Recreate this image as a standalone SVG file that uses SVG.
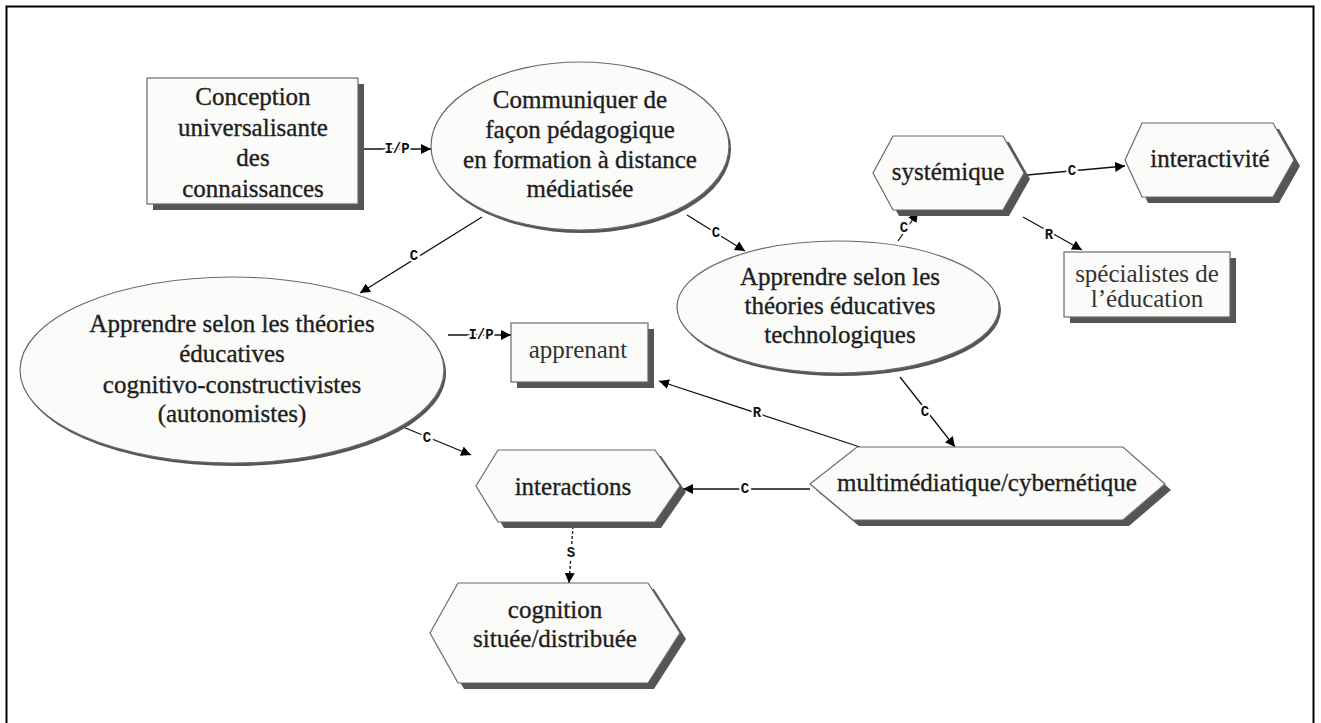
<svg xmlns="http://www.w3.org/2000/svg" width="1321" height="723" viewBox="0 0 1321 723">
<defs>
<style>
.shape{fill:#fbfbf9;stroke:#6a6a6a;stroke-width:1.2}
.shadow{fill:#555}
.t{font-family:'Liberation Serif','DejaVu Serif',serif;font-size:25px;fill:#1e1e1e;text-anchor:middle;stroke:#1e1e1e;stroke-width:0.35}
.tl{font-family:'Liberation Serif','DejaVu Serif',serif;font-size:25px;fill:#333;text-anchor:middle}
.lnk{stroke:#111;stroke-width:1.3;fill:none;marker-end:url(#arr)}
.lbl{font-family:'Liberation Mono','DejaVu Sans Mono',monospace;font-size:14px;font-weight:bold;fill:#111;text-anchor:middle;dominant-baseline:central;stroke:#fff;stroke-width:4;paint-order:stroke}
</style>
<marker id="arr" markerUnits="userSpaceOnUse" markerWidth="11" markerHeight="10" refX="10" refY="5" orient="auto">
<path d="M0,0 L10,5 L0,10 z" fill="#000"/>
</marker>
</defs>
<rect x="0" y="0" width="1321" height="723" fill="#fff"/>
<rect x="6.5" y="6.5" width="1307" height="740" fill="none" stroke="#000" stroke-width="2"/>

<g id="connectors">
<line class="lnk" x1="364" y1="149" x2="431" y2="149"/>
<text class="lbl" x="397" y="149">I/P</text>
<line class="lnk" x1="482" y1="217" x2="360" y2="293"/>
<text class="lbl" x="414" y="256">C</text>
<line class="lnk" x1="687" y1="215" x2="745" y2="251"/>
<text class="lbl" x="716" y="233">C</text>
<line class="lnk" x1="898" y1="241" x2="918" y2="212"/>
<text class="lbl" x="904" y="228">C</text>
<line class="lnk" x1="1027" y1="175" x2="1125" y2="166"/>
<text class="lbl" x="1072" y="171">C</text>
<line class="lnk" x1="1023" y1="217" x2="1082" y2="250"/>
<text class="lbl" x="1049" y="235">R</text>
<line class="lnk" x1="448" y1="335" x2="511" y2="335"/>
<text class="lbl" x="481" y="335">I/P</text>
<line class="lnk" x1="403" y1="427" x2="471" y2="455"/>
<text class="lbl" x="427" y="438">C</text>
<line class="lnk" x1="860" y1="447" x2="659" y2="381"/>
<text class="lbl" x="757" y="413">R</text>
<line class="lnk" x1="900" y1="377" x2="955" y2="447"/>
<text class="lbl" x="925" y="412">C</text>
<line class="lnk" x1="810" y1="489" x2="683" y2="489"/>
<text class="lbl" x="745" y="489">C</text>
<line class="lnk" x1="573" y1="526" x2="569" y2="583" stroke-dasharray="3 2"/>
<text class="lbl" x="571" y="553">S</text>
</g>

<g id="n-conception">
<rect class="shadow" x="153" y="84" width="211" height="126"/>
<rect class="shape" x="147" y="78" width="211" height="126"/>
<text class="t" x="253" y="105">Conception</text>
<text class="t" x="253" y="136">universalisante</text>
<text class="t" x="253" y="166">des</text>
<text class="t" x="253" y="197">connaissances</text>
</g>

<g id="n-communiquer">
<ellipse class="shadow" cx="582" cy="149" rx="149" ry="84"/>
<ellipse class="shape" cx="580" cy="146" rx="149" ry="84"/>
<text class="t" x="580" y="108">Communiquer de</text>
<text class="t" x="580" y="138">façon pédagogique</text>
<text class="t" x="580" y="168">en formation à distance</text>
<text class="t" x="580" y="197">médiatisée</text>
</g>

<g id="n-cognitivo">
<ellipse class="shadow" cx="234" cy="373" rx="212" ry="93"/>
<ellipse class="shape" cx="232" cy="370" rx="212" ry="93"/>
<text class="t" x="232" y="332">Apprendre selon les théories</text>
<text class="t" x="232" y="362">éducatives</text>
<text class="t" x="232" y="393">cognitivo-constructivistes</text>
<text class="t" x="232" y="422">(autonomistes)</text>
</g>

<g id="n-technologiques">
<ellipse class="shadow" cx="840" cy="310" rx="161" ry="66"/>
<ellipse class="shape" cx="838" cy="307" rx="161" ry="66"/>
<text class="t" x="840" y="285">Apprendre selon les</text>
<text class="t" x="840" y="314">théories éducatives</text>
<text class="t" x="840" y="343">technologiques</text>
</g>

<g id="n-apprenant">
<rect class="shadow" x="517" y="329" width="137" height="59"/>
<rect class="shape" x="511" y="323" width="137" height="59"/>
<text class="tl" x="578" y="358">apprenant</text>
</g>

<g id="n-specialistes">
<rect class="shadow" x="1070" y="258" width="166" height="65"/>
<rect class="shape" x="1064" y="252" width="166" height="65"/>
<text class="tl" x="1147" y="282">spécialistes de</text>
<text class="tl" x="1147" y="307">l’éducation</text>
</g>

<g id="n-systemique">
<polygon class="shadow" points="879,179 899,142 1009,142 1030,179 1009,216 899,216"/>
<polygon class="shape" points="873,173 893,136 1003,136 1024,173 1003,210 893,210"/>
<text class="t" x="948" y="180">systémique</text>
</g>

<g id="n-interactivite">
<polygon class="shadow" points="1131,166 1148,129 1279,129 1300,166 1279,203 1148,203"/>
<polygon class="shape" points="1125,160 1142,123 1273,123 1294,160 1273,197 1142,197"/>
<text class="t" x="1210" y="167">interactivité</text>
</g>

<g id="n-multimediatique">
<polygon class="shadow" points="816,490 863,453 1129,453 1171,490 1129,526 859,526"/>
<polygon class="shape" points="810,484 857,447 1123,447 1165,484 1123,520 853,520"/>
<text class="t" x="987" y="491">multimédiatique/cybernétique</text>
</g>

<g id="n-interactions">
<polygon class="shadow" points="482,492 504,456 661,456 686,492 661,528 504,528"/>
<polygon class="shape" points="476,486 498,450 655,450 680,486 655,522 498,522"/>
<text class="t" x="573" y="495">interactions</text>
</g>

<g id="n-cognition">
<polygon class="shadow" points="436,639 464,589 654,589 686,639 654,689 464,689"/>
<polygon class="shape" points="430,633 458,583 648,583 680,633 648,683 458,683"/>
<text class="t" x="555" y="618">cognition</text>
<text class="t" x="555" y="647">située/distribuée</text>
</g>
</svg>
